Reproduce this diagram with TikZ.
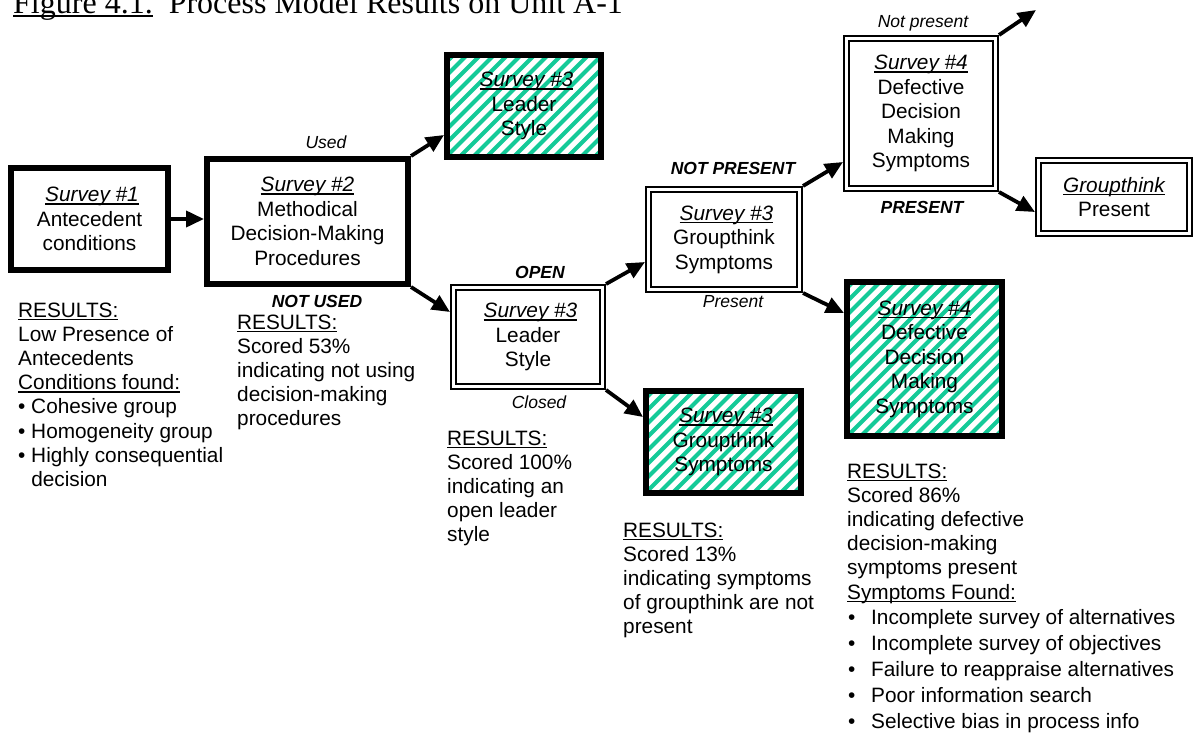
\documentclass[tikz,border=0pt]{standalone}
\usepackage{fontspec}
\setmainfont{Liberation Sans}
\newfontfamily\seriffont{Liberation Serif}
\usetikzlibrary{arrows.meta,calc}

% underline with a rule of our own thickness
\newcommand{\undl}[1]{\leavevmode\setbox0\hbox{#1}\rlap{\rule[-3.3pt]{\wd0}{1.8pt}}\box0}
\newcommand{\titleundl}[1]{\leavevmode\setbox0\hbox{#1}\rlap{\rule[-4.3pt]{\wd0}{2.4pt}}\box0}
\newcommand{\txtsize}{\fontsize{20.8pt}{24.5pt}\selectfont}
\newcommand{\ressize}{\fontsize{20.8pt}{24.2pt}\selectfont}
\newcommand{\labsize}{\fontsize{17.5pt}{20pt}\selectfont}

\definecolor{stripe}{RGB}{20,202,152}

\tikzset{
  boxbase/.style={align=center, inner sep=0pt, font=\txtsize},
  thickbox/.style={boxbase, draw, line width=6pt, outer sep=3pt},
  dblbox/.style={boxbase, draw, double, line width=2.3pt, double distance=2.4pt, outer sep=3.5pt},
  hatched/.style={path picture={
      \foreach \k in {-14,...,14}{
        \draw[stripe, line width=4.2pt]
          ($(path picture bounding box.center)+(\k*13.5-110,110)$) -- ++(220,-220);
      }}},
  conn/.style={line width=3.8pt, -{Triangle[length=18pt,width=16pt]}},
  lab/.style={anchor=base, inner sep=0pt, font=\labsize\itshape},
  blab/.style={anchor=base, inner sep=0pt, font=\labsize\bfseries\itshape},
  res/.style={anchor=base west, inner sep=0pt, font=\ressize},
}

\begin{document}
\begin{tikzpicture}[x=1pt, y=-1pt]
\useasboundingbox (0,0) rectangle (1194,737);
\clip (0,0) rectangle (1194,737);
\fill[white] (0,0) rectangle (1194,737);

% heading
\node[anchor=base west, inner sep=0pt, font=\seriffont\fontsize{32pt}{36pt}\selectfont] (title) at (13,13)
  {\titleundl{Figure 4.1.}\hspace{16pt}Process Model Results on Unit A-1};

% survey boxes
\node[thickbox, minimum width=157pt, minimum height=102pt] (b1) at (89.5,219)
  {\hspace*{5pt}\undl{\itshape Survey \#1}\\Antecedent\\conditions};
\node[thickbox, minimum width=201pt, minimum height=125pt] (b2) at (307.5,221.5)
  {\undl{\itshape Survey \#2}\\Methodical\\Decision-Making\\Procedures};
\node[thickbox, hatched, minimum width=154pt, minimum height=102pt] (b3a) at (524,106)
  {\hspace*{5pt}\undl{\itshape Survey \#3}\\Leader\\Style};
\node[dblbox, minimum width=149pt, minimum height=99pt] (b3b) at (528,337)
  {\hspace*{5pt}\undl{\itshape Survey \#3}\\Leader\\Style};
\node[dblbox, minimum width=151pt, minimum height=100pt] (b4a) at (724,239.5)
  {\hspace*{5pt}\undl{\itshape Survey \#3}\\Groupthink\\Symptoms};
\node[thickbox, hatched, minimum width=155pt, minimum height=102pt] (b4b) at (723.5,442)
  {\hspace*{5pt}\undl{\itshape Survey \#3}\\Groupthink\\Symptoms};
\node[dblbox, minimum width=149pt, minimum height=150pt] (b5) at (921,113.5)
  {\undl{\itshape Survey \#4}\\Defective\\Decision\\Making\\Symptoms};
\node[thickbox, hatched, minimum width=155pt, minimum height=154pt] (b6) at (924.5,359)
  {\undl{\itshape Survey \#4}\\Defective\\Decision\\Making\\Symptoms};
\node[dblbox, minimum width=151pt, minimum height=73pt] (b7) at (1114,197)
  {\undl{\itshape Groupthink}\\Present};

% connectors
\coordinate (open) at (1036,10);
\draw[conn] (b1.east) -- (b1.east -| b2.west);
\draw[conn] (b2.north east) -- ($(b3a.south west)+(0,-25)$);
\draw[conn] (b2.south east) -- ($(b3b.north west)+(0,28)$);
\draw[conn] (b3b.north east) -- ($(b4a.south west)+(0,-31)$);
\draw[conn] (b3b.south east) -- ($(b4b.north west)+(0,29)$);
\draw[conn] (b4a.north east) -- ($(b5.south west)+(0,-30)$);
\draw[conn] (b4a.south east) -- ($(b6.north west)+(0,34)$);
\draw[conn] (b5.north east) -- (open);
\draw[conn] (b5.south east) -- ($(b7.north west)+(0,55)$);

% branch labels
\node[lab]  (lused)   at (326,148) {Used};
\node[blab] (lnotused) at (317,307) {NOT USED};
\node[blab] (lopen)   at (540,278) {OPEN};
\node[lab]  (lclosed) at (539,408) {Closed};
\node[blab] (lnotpres) at (733,174) {NOT PRESENT};
\node[lab]  (lpres)   at (733,307) {Present};
\node[lab]  (lnotp)   at (923,27) {Not present};
\node[blab] (lpresent) at (922,213) {PRESENT};

% result notes
\node[res] (r1) at (18,317) {\parbox[t]{215pt}{\raggedright
  \undl{RESULTS:}\\
  Low Presence of\\
  Antecedents\\
  \undl{Conditions found:}\\
  • Cohesive group\\
  • Homogeneity group\\
  • Highly consequential\\
  \hphantom{• }decision}};
\node[res] (r2) at (237,329) {\parbox[t]{200pt}{\raggedright
  \undl{RESULTS:}\\
  Scored 53\%\\
  indicating not using\\
  decision-making\\
  procedures}};
\node[res] (r3) at (447,445) {\parbox[t]{170pt}{\raggedright
  \undl{RESULTS:}\\
  Scored 100\%\\
  indicating an\\
  open leader\\
  style}};
\node[res] (r4) at (623,537) {\parbox[t]{220pt}{\raggedright
  \undl{RESULTS:}\\
  Scored 13\%\\
  indicating symptoms\\
  of groupthink are not\\
  present}};
\node[res] (r5) at (847,478) {\parbox[t]{345pt}{\raggedright
  \undl{RESULTS:}\\
  Scored 86\%\\
  indicating defective\\
  decision-making\\
  symptoms present\\
  \undl{Symptoms Found:}\\[1.6pt]
  \makebox[24pt][l]{\hspace{1pt}•}Incomplete survey of alternatives\\[1.6pt]
  \makebox[24pt][l]{\hspace{1pt}•}Incomplete survey of objectives\\[1.6pt]
  \makebox[24pt][l]{\hspace{1pt}•}Failure to reappraise alternatives\\[1.6pt]
  \makebox[24pt][l]{\hspace{1pt}•}Poor information search\\[1.6pt]
  \makebox[24pt][l]{\hspace{1pt}•}Selective bias in process info}};
\end{tikzpicture}
\end{document}
